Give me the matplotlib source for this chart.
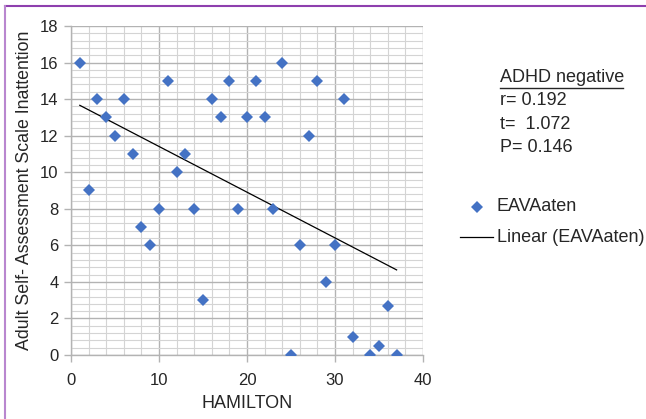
import numpy as np
import matplotlib.pyplot as plt
from matplotlib.lines import Line2D

plt.rcParams['font.family'] = ['Liberation Sans', 'DejaVu Sans']

# HAMILTON score vs. adult self-assessment inattention score
hamilton = [1, 2, 3, 4, 5, 6, 7, 8, 9, 10, 11, 12, 13, 14, 15, 16, 17, 18,
            19, 20, 21, 22, 23, 24, 25, 26, 27, 28, 29, 30, 31, 32, 34, 35, 36, 37]
inattention = [16, 9, 14, 13, 12, 14, 11, 7, 6, 8, 15, 10, 11, 8, 3, 14, 13, 15,
               8, 13, 15, 13, 8, 16, 0, 6, 12, 15, 4, 6, 14, 1, 0, 0.5, 2.7, 0]

stats_title = "ADHD negative"
stats_lines = ["r= 0.192", "t=  1.072", "P= 0.146"]

blue = "#4472C4"
grid_major = "#b3b3b3"
grid_minor = "#d4d4d4"
text_col = "#262626"

fig = plt.figure(figsize=(6.46, 4.19), dpi=100)
ax = fig.add_axes([0.1099, 0.1527, 0.5449, 0.7853])

x = np.array(hamilton, dtype=float)
y = np.array(inattention, dtype=float)

ax.plot(x, y, linestyle="none", marker="D", markersize=6.6, color=blue,
        markeredgewidth=0, zorder=3)

# least squares trend line over the data range
slope, intercept = np.polyfit(x, y, 1)
xs = np.array([x.min(), x.max()])
ax.plot(xs, slope * xs + intercept, color="black", linewidth=0.9, zorder=2)

ax.set_xlim(0, 40)
ax.set_ylim(0, 18)
ax.set_xticks(np.arange(0, 41, 10))
ax.set_yticks(np.arange(0, 19, 2))
ax.set_xticks(np.arange(0, 41, 2), minor=True)
ax.set_yticks(np.arange(0, 18.01, 0.4), minor=True)
ax.grid(which="minor", color=grid_minor, linewidth=0.8)
ax.grid(which="major", color=grid_major, linewidth=1.0)
ax.set_axisbelow(True)

for side in ("top", "right"):
    ax.spines[side].set_visible(False)
for side in ("left", "bottom"):
    ax.spines[side].set_color(grid_major)
    ax.spines[side].set_linewidth(1.0)

ax.tick_params(which="major", length=5, width=1.0, color=grid_major,
               labelsize=12, labelcolor=text_col, pad=4)
ax.tick_params(which="minor", length=0)
ax.tick_params(axis="x", pad=8)

ax.set_xlabel("HAMILTON", fontsize=13, color=text_col, labelpad=5)
ax.set_ylabel("Adult Self- Assessment Scale Inattention", fontsize=12.8,
              color=text_col, labelpad=5)

# statistics block
fig.text(0.774, 0.814, stats_title, fontsize=13, color=text_col,
         va="center", ha="left")
fig.add_artist(Line2D([0.774, 0.964], [0.789, 0.789], transform=fig.transFigure,
                      color=text_col, linewidth=1.0))
for i, s in enumerate(stats_lines):
    fig.text(0.774, 0.760 - i * 0.056, s, fontsize=13, color=text_col,
             va="center", ha="left")

# legend drawn by hand to sit right of the axes
fig.add_artist(Line2D([0.7385], [0.506], transform=fig.transFigure,
                      marker="D", markersize=6.6, color=blue,
                      markeredgewidth=0, linestyle="none"))
fig.text(0.769, 0.506, "EAVAaten", fontsize=13, color=text_col, va="center")
fig.add_artist(Line2D([0.712, 0.763], [0.434, 0.434], transform=fig.transFigure,
                      color="black", linewidth=0.9))
fig.text(0.769, 0.434, "Linear (EAVAaten)", fontsize=13, color=text_col,
         va="center")

# frame lines along the top and left edges
fig.add_artist(Line2D([0.008, 1.0], [0.986, 0.986], transform=fig.transFigure,
                      color="#8e3fae", linewidth=1.5))
fig.add_artist(Line2D([0.008, 0.008], [0.0, 0.986], transform=fig.transFigure,
                      color="#b987cf", linewidth=1.5))

fig.savefig("out.png", dpi=100)
